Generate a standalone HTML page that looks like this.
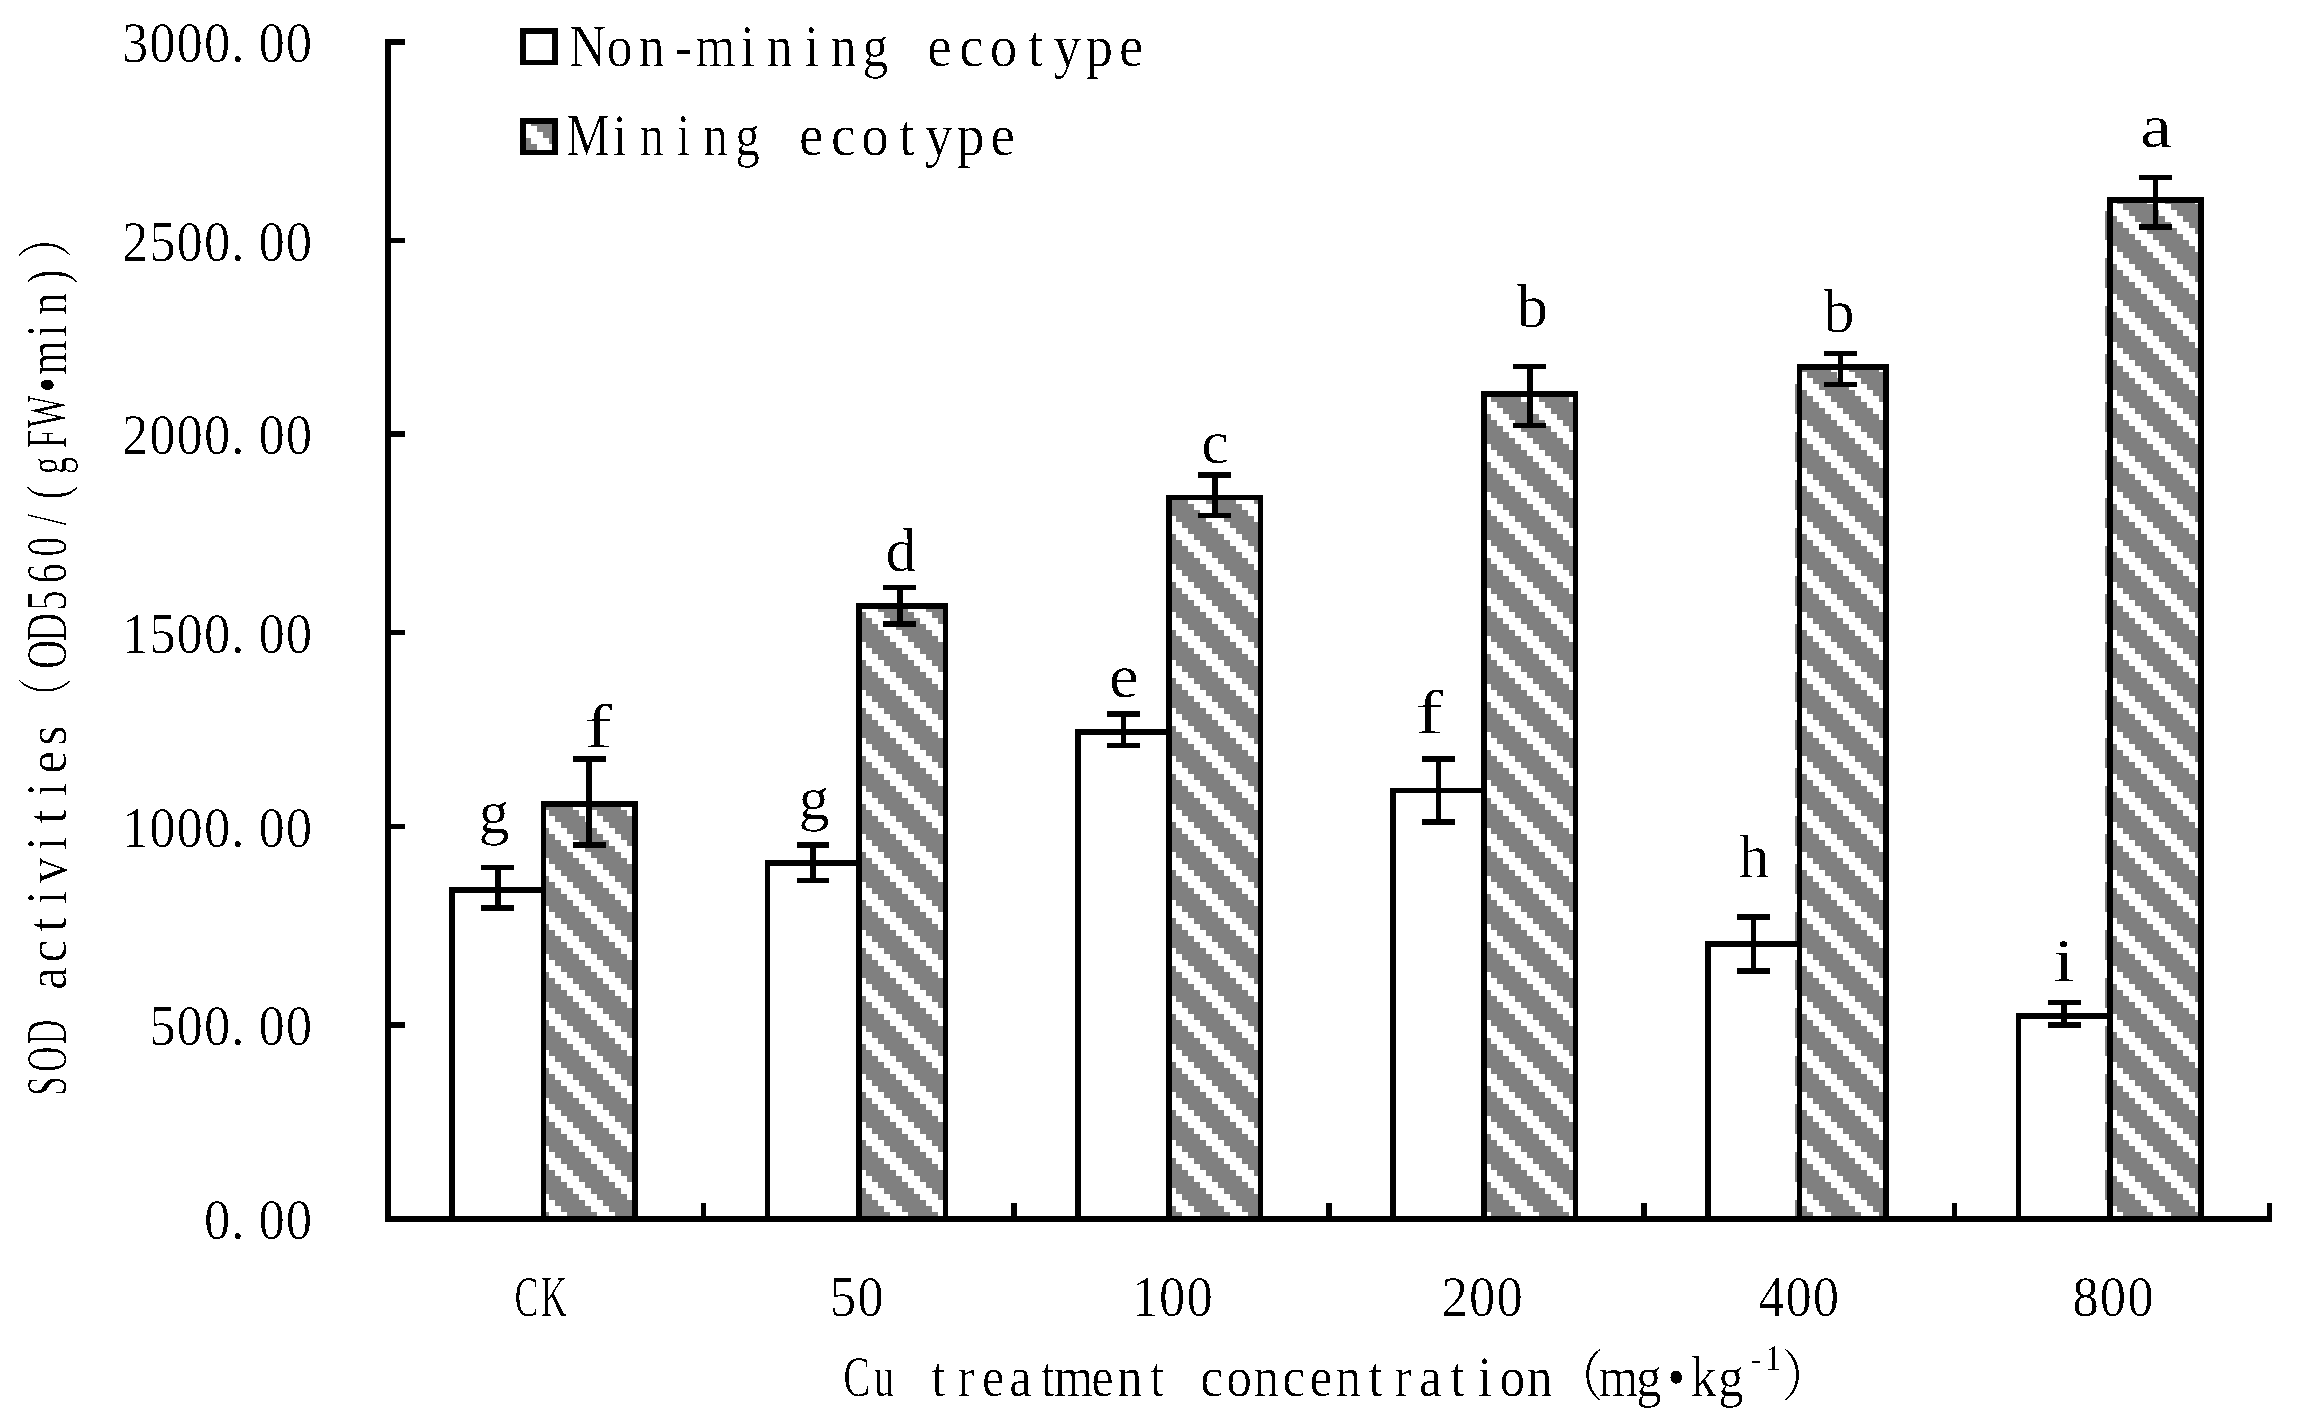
<!DOCTYPE html>
<html lang="en"><head><meta charset="utf-8"><title>SOD activities</title>
<style>html,body{margin:0;padding:0;background:#fff}svg{display:block}text{font-family:"Liberation Serif", "Noto Serif CJK SC", serif;fill:#000}</style></head><body>
<svg width="2317" height="1425" viewBox="0 0 2317 1425">
<rect width="2317" height="1425" fill="#fff"/>
<defs>
<pattern id="h0" patternUnits="userSpaceOnUse" x="531" y="810" width="48" height="48">
<rect width="48" height="48" fill="#808080"/>
<rect x="0" y="0" width="18" height="6" fill="#fff"/>
<rect x="6" y="6" width="18" height="6" fill="#fff"/>
<rect x="12" y="12" width="18" height="6" fill="#fff"/>
<rect x="18" y="18" width="18" height="6" fill="#fff"/>
<rect x="24" y="24" width="18" height="6" fill="#fff"/>
<rect x="30" y="30" width="18" height="6" fill="#fff"/>
<rect x="36" y="36" width="12" height="6" fill="#fff"/>
<rect x="0" y="36" width="6" height="6" fill="#fff"/>
<rect x="42" y="42" width="6" height="6" fill="#fff"/>
<rect x="0" y="42" width="12" height="6" fill="#fff"/>
</pattern>
<pattern id="h1" patternUnits="userSpaceOnUse" x="848" y="1170" width="48" height="48">
<rect width="48" height="48" fill="#808080"/>
<rect x="0" y="0" width="18" height="6" fill="#fff"/>
<rect x="6" y="6" width="18" height="6" fill="#fff"/>
<rect x="12" y="12" width="18" height="6" fill="#fff"/>
<rect x="18" y="18" width="18" height="6" fill="#fff"/>
<rect x="24" y="24" width="18" height="6" fill="#fff"/>
<rect x="30" y="30" width="18" height="6" fill="#fff"/>
<rect x="36" y="36" width="12" height="6" fill="#fff"/>
<rect x="0" y="36" width="6" height="6" fill="#fff"/>
<rect x="42" y="42" width="6" height="6" fill="#fff"/>
<rect x="0" y="42" width="12" height="6" fill="#fff"/>
</pattern>
<pattern id="h2" patternUnits="userSpaceOnUse" x="1158" y="1140" width="48" height="48">
<rect width="48" height="48" fill="#808080"/>
<rect x="0" y="0" width="18" height="6" fill="#fff"/>
<rect x="6" y="6" width="18" height="6" fill="#fff"/>
<rect x="12" y="12" width="18" height="6" fill="#fff"/>
<rect x="18" y="18" width="18" height="6" fill="#fff"/>
<rect x="24" y="24" width="18" height="6" fill="#fff"/>
<rect x="30" y="30" width="18" height="6" fill="#fff"/>
<rect x="36" y="36" width="12" height="6" fill="#fff"/>
<rect x="0" y="36" width="6" height="6" fill="#fff"/>
<rect x="42" y="42" width="6" height="6" fill="#fff"/>
<rect x="0" y="42" width="12" height="6" fill="#fff"/>
</pattern>
<pattern id="h3" patternUnits="userSpaceOnUse" x="1473" y="1164" width="48" height="48">
<rect width="48" height="48" fill="#808080"/>
<rect x="0" y="0" width="18" height="6" fill="#fff"/>
<rect x="6" y="6" width="18" height="6" fill="#fff"/>
<rect x="12" y="12" width="18" height="6" fill="#fff"/>
<rect x="18" y="18" width="18" height="6" fill="#fff"/>
<rect x="24" y="24" width="18" height="6" fill="#fff"/>
<rect x="30" y="30" width="18" height="6" fill="#fff"/>
<rect x="36" y="36" width="12" height="6" fill="#fff"/>
<rect x="0" y="36" width="6" height="6" fill="#fff"/>
<rect x="42" y="42" width="6" height="6" fill="#fff"/>
<rect x="0" y="42" width="12" height="6" fill="#fff"/>
</pattern>
<pattern id="h4" patternUnits="userSpaceOnUse" x="1789" y="1188" width="48" height="48">
<rect width="48" height="48" fill="#808080"/>
<rect x="0" y="0" width="18" height="6" fill="#fff"/>
<rect x="6" y="6" width="18" height="6" fill="#fff"/>
<rect x="12" y="12" width="18" height="6" fill="#fff"/>
<rect x="18" y="18" width="18" height="6" fill="#fff"/>
<rect x="24" y="24" width="18" height="6" fill="#fff"/>
<rect x="30" y="30" width="18" height="6" fill="#fff"/>
<rect x="36" y="36" width="12" height="6" fill="#fff"/>
<rect x="0" y="36" width="6" height="6" fill="#fff"/>
<rect x="42" y="42" width="6" height="6" fill="#fff"/>
<rect x="0" y="42" width="12" height="6" fill="#fff"/>
</pattern>
<pattern id="h5" patternUnits="userSpaceOnUse" x="2099" y="246" width="48" height="48">
<rect width="48" height="48" fill="#808080"/>
<rect x="0" y="0" width="18" height="6" fill="#fff"/>
<rect x="6" y="6" width="18" height="6" fill="#fff"/>
<rect x="12" y="12" width="18" height="6" fill="#fff"/>
<rect x="18" y="18" width="18" height="6" fill="#fff"/>
<rect x="24" y="24" width="18" height="6" fill="#fff"/>
<rect x="30" y="30" width="18" height="6" fill="#fff"/>
<rect x="36" y="36" width="12" height="6" fill="#fff"/>
<rect x="0" y="36" width="6" height="6" fill="#fff"/>
<rect x="42" y="42" width="6" height="6" fill="#fff"/>
<rect x="0" y="42" width="12" height="6" fill="#fff"/>
</pattern>
<pattern id="hl" patternUnits="userSpaceOnUse" x="531" y="138" width="48" height="48">
<rect width="48" height="48" fill="#808080"/>
<rect x="0" y="0" width="18" height="6" fill="#fff"/>
<rect x="6" y="6" width="18" height="6" fill="#fff"/>
<rect x="12" y="12" width="18" height="6" fill="#fff"/>
<rect x="18" y="18" width="18" height="6" fill="#fff"/>
<rect x="24" y="24" width="18" height="6" fill="#fff"/>
<rect x="30" y="30" width="18" height="6" fill="#fff"/>
<rect x="36" y="36" width="12" height="6" fill="#fff"/>
<rect x="0" y="36" width="6" height="6" fill="#fff"/>
<rect x="42" y="42" width="6" height="6" fill="#fff"/>
<rect x="0" y="42" width="12" height="6" fill="#fff"/>
</pattern>
<filter id="bw" filterUnits="userSpaceOnUse" x="0" y="0" width="2317" height="1425" color-interpolation-filters="sRGB"><feComponentTransfer><feFuncA type="discrete" tableValues="0 0 0 1"/></feComponentTransfer></filter>
</defs>
<g shape-rendering="crispEdges">
<rect x="546" y="807" width="86" height="409" fill="url(#h0)"/>
<rect x="541" y="801" width="5" height="415" fill="#000"/>
<rect x="632" y="801" width="6" height="415" fill="#000"/>
<rect x="541" y="801" width="97" height="6" fill="#000"/>
<rect x="449" y="887" width="6" height="329" fill="#000"/>
<rect x="449" y="887" width="92" height="6" fill="#000"/>
<rect x="862" y="609" width="81" height="607" fill="url(#h1)"/>
<rect x="856" y="603" width="6" height="613" fill="#000"/>
<rect x="943" y="603" width="5" height="613" fill="#000"/>
<rect x="856" y="603" width="92" height="6" fill="#000"/>
<rect x="765" y="860" width="5" height="356" fill="#000"/>
<rect x="765" y="860" width="91" height="6" fill="#000"/>
<rect x="1172" y="500" width="86" height="716" fill="url(#h2)"/>
<rect x="1166" y="495" width="6" height="721" fill="#000"/>
<rect x="1258" y="495" width="5" height="721" fill="#000"/>
<rect x="1166" y="495" width="97" height="5" fill="#000"/>
<rect x="1075" y="729" width="6" height="487" fill="#000"/>
<rect x="1075" y="729" width="91" height="6" fill="#000"/>
<rect x="1487" y="397" width="86" height="819" fill="url(#h3)"/>
<rect x="1481" y="391" width="6" height="825" fill="#000"/>
<rect x="1573" y="391" width="5" height="825" fill="#000"/>
<rect x="1481" y="391" width="97" height="6" fill="#000"/>
<rect x="1390" y="788" width="6" height="428" fill="#000"/>
<rect x="1390" y="788" width="91" height="5" fill="#000"/>
<rect x="1795" y="378" width="88" height="838" fill="url(#h4)"/>
<rect x="1802" y="370" width="81" height="8" fill="url(#h4)"/>
<rect x="1797" y="364" width="5" height="852" fill="#000"/>
<rect x="1883" y="364" width="6" height="852" fill="#000"/>
<rect x="1797" y="364" width="92" height="6" fill="#000"/>
<rect x="1705" y="941" width="6" height="275" fill="#000"/>
<rect x="1705" y="941" width="92" height="6" fill="#000"/>
<rect x="2105" y="211" width="93" height="1005" fill="url(#h5)"/>
<rect x="2113" y="203" width="85" height="8" fill="url(#h5)"/>
<rect x="2107" y="197" width="6" height="1019" fill="#000"/>
<rect x="2198" y="197" width="6" height="1019" fill="#000"/>
<rect x="2107" y="197" width="97" height="6" fill="#000"/>
<rect x="2016" y="1013" width="5" height="203" fill="#000"/>
<rect x="2016" y="1013" width="91" height="6" fill="#000"/>
<rect x="385" y="39" width="6" height="1183" fill="#000"/>
<rect x="385" y="1216" width="1887" height="6" fill="#000"/>
<rect x="391" y="39" width="14" height="6" fill="#000"/>
<rect x="391" y="238" width="14" height="5" fill="#000"/>
<rect x="391" y="431" width="14" height="6" fill="#000"/>
<rect x="391" y="630" width="14" height="5" fill="#000"/>
<rect x="391" y="824" width="14" height="5" fill="#000"/>
<rect x="391" y="1022" width="14" height="6" fill="#000"/>
<rect x="701" y="1203" width="5" height="13" fill="#000"/>
<rect x="1011" y="1203" width="6" height="13" fill="#000"/>
<rect x="1326" y="1203" width="6" height="13" fill="#000"/>
<rect x="1641" y="1203" width="6" height="13" fill="#000"/>
<rect x="1952" y="1203" width="5" height="13" fill="#000"/>
<rect x="2267" y="1203" width="5" height="13" fill="#000"/>
<rect x="481" y="865" width="33" height="5" fill="#000"/>
<rect x="481" y="905" width="33" height="6" fill="#000"/>
<rect x="495" y="865" width="6" height="46" fill="#000"/>
<rect x="573" y="756" width="33" height="6" fill="#000"/>
<rect x="573" y="842" width="33" height="6" fill="#000"/>
<rect x="586" y="756" width="6" height="92" fill="#000"/>
<rect x="797" y="842" width="32" height="6" fill="#000"/>
<rect x="797" y="878" width="32" height="5" fill="#000"/>
<rect x="810" y="842" width="6" height="41" fill="#000"/>
<rect x="883" y="585" width="33" height="5" fill="#000"/>
<rect x="883" y="621" width="33" height="6" fill="#000"/>
<rect x="897" y="585" width="6" height="42" fill="#000"/>
<rect x="1107" y="711" width="33" height="6" fill="#000"/>
<rect x="1107" y="743" width="33" height="5" fill="#000"/>
<rect x="1121" y="711" width="5" height="37" fill="#000"/>
<rect x="1198" y="472" width="33" height="6" fill="#000"/>
<rect x="1198" y="513" width="33" height="5" fill="#000"/>
<rect x="1212" y="472" width="6" height="46" fill="#000"/>
<rect x="1422" y="756" width="33" height="6" fill="#000"/>
<rect x="1422" y="819" width="33" height="6" fill="#000"/>
<rect x="1436" y="756" width="5" height="69" fill="#000"/>
<rect x="1513" y="364" width="33" height="5" fill="#000"/>
<rect x="1513" y="423" width="33" height="5" fill="#000"/>
<rect x="1527" y="364" width="6" height="64" fill="#000"/>
<rect x="1737" y="914" width="33" height="6" fill="#000"/>
<rect x="1737" y="968" width="33" height="6" fill="#000"/>
<rect x="1751" y="914" width="5" height="60" fill="#000"/>
<rect x="1824" y="351" width="33" height="5" fill="#000"/>
<rect x="1824" y="382" width="33" height="5" fill="#000"/>
<rect x="1838" y="351" width="5" height="36" fill="#000"/>
<rect x="2048" y="1000" width="33" height="5" fill="#000"/>
<rect x="2048" y="1022" width="33" height="6" fill="#000"/>
<rect x="2061" y="1000" width="6" height="28" fill="#000"/>
<rect x="2139" y="175" width="33" height="5" fill="#000"/>
<rect x="2139" y="224" width="33" height="6" fill="#000"/>
<rect x="2153" y="175" width="5" height="55" fill="#000"/>
<rect x="520" y="28" width="38" height="37" fill="#000"/>
<rect x="526" y="34" width="26" height="26" fill="#fff"/>
<rect x="520" y="118" width="38" height="37" fill="#000"/>
<rect x="526" y="124" width="26" height="26" fill="url(#hl)"/>
</g>
<g filter="url(#bw)">
<text text-anchor="middle" font-size="56" x="143.8 172.9 201.9 231.0 253.1 289.0 318.1" y="62.2" transform="scale(0.94,1)">3000.00</text>
<text text-anchor="middle" font-size="56" x="143.8 172.9 201.9 231.0 253.1 289.0 318.1" y="260.7" transform="scale(0.94,1)">2500.00</text>
<text text-anchor="middle" font-size="56" x="143.8 172.9 201.9 231.0 253.1 289.0 318.1" y="454.5" transform="scale(0.94,1)">2000.00</text>
<text text-anchor="middle" font-size="56" x="143.8 172.9 201.9 231.0 253.1 289.0 318.1" y="652.9" transform="scale(0.94,1)">1500.00</text>
<text text-anchor="middle" font-size="56" x="143.8 172.9 201.9 231.0 253.1 289.0 318.1" y="846.7" transform="scale(0.94,1)">1000.00</text>
<text text-anchor="middle" font-size="56" x="172.9 201.9 231.0 253.1 289.0 318.1" y="1044.9" transform="scale(0.94,1)">500.00</text>
<text text-anchor="middle" font-size="56" x="231.0 253.1 289.0 318.1" y="1239.2" transform="scale(0.94,1)">0.00</text>
<text text-anchor="middle" font-size="56" x="810.3 852.3" y="1316" transform="scale(0.65,1)">CK</text>
<text text-anchor="middle" font-size="56" x="896.9 926.0" y="1316" transform="scale(0.94,1)">50</text>
<text text-anchor="middle" font-size="56" x="1218.1 1247.1 1276.2" y="1316" transform="scale(0.94,1)">100</text>
<text text-anchor="middle" font-size="56" x="1547.9 1576.9 1606.0" y="1316" transform="scale(0.94,1)">200</text>
<text text-anchor="middle" font-size="56" x="1884.4 1913.4 1942.4" y="1316" transform="scale(0.94,1)">400</text>
<text text-anchor="middle" font-size="56" x="2218.8 2247.9 2276.9" y="1316" transform="scale(0.94,1)">800</text>
<text text-anchor="middle" font-size="62" x="494.0" y="833">g</text>
<text text-anchor="middle" font-size="62" x="443.3" y="747" transform="scale(1.35,1)">f</text>
<text text-anchor="middle" font-size="62" x="814.0" y="819">g</text>
<text text-anchor="middle" font-size="62" x="901.0" y="571">d</text>
<text text-anchor="middle" font-size="62" x="1040.7" y="697" transform="scale(1.08,1)">e</text>
<text text-anchor="middle" font-size="62" x="1215.0" y="463">c</text>
<text text-anchor="middle" font-size="62" x="1058.9" y="733" transform="scale(1.35,1)">f</text>
<text text-anchor="middle" font-size="62" x="1532.5" y="327">b</text>
<text text-anchor="middle" font-size="62" x="1754.0" y="877">h</text>
<text text-anchor="middle" font-size="62" x="1839.0" y="332">b</text>
<text text-anchor="middle" font-size="62" x="1651.2" y="981" transform="scale(1.25,1)">i</text>
<text text-anchor="middle" font-size="62" x="1874.8" y="147" transform="scale(1.15,1)">a</text>
<text text-anchor="middle" font-size="60" transform="scale(0.86,1)" x="683.4 720.6 757.7 794.9 832.1 869.3 906.5 943.7 980.9 1018.0" y="66">Non-mining</text>
<text text-anchor="middle" font-size="60" transform="scale(0.92,1)" x="1021.2 1055.9 1090.7 1125.5 1160.2 1195.0 1229.7" y="66">ecotype</text>
<text text-anchor="middle" font-size="60" transform="scale(0.82,1)" x="717.1 756.0 794.9 833.8 872.7 911.6" y="155.5">Mining</text>
<text text-anchor="middle" font-size="60" transform="scale(0.92,1)" x="881.8 916.5 951.2 985.9 1020.5 1055.2 1089.9" y="155.5">ecotype</text>
<text text-anchor="middle" font-size="56" transform="scale(0.72,1)" x="1189.7 1227.7" y="1396.3">Cu</text>
<text text-anchor="middle" font-size="56" transform="scale(0.9,1)" x="1042.8 1073.2 1103.6 1133.9 1164.3 1193.0 1225.0 1255.3 1285.7" y="1396.3">treatment</text>
<text text-anchor="middle" font-size="56" transform="scale(0.92,1)" x="1317.1 1346.8 1376.5 1406.2 1435.9 1465.6 1495.3 1525.0 1554.7 1584.4 1614.1 1643.8 1673.5 1715.5 1759.3 1792.3 1822.0 1851.7 1881.3" y="1396.3">concentration（mg•kg<tspan font-size="36" x="1908.7 1927.2" y="1370">-1</tspan><tspan x="1964.1" y="1396.3">）</tspan></text>
<text text-anchor="middle" font-size="56" transform="rotate(-90) scale(0.62,1)" x="-1751.9 -1708.4 -1664.9" y="65.7">SOD</text>
<text text-anchor="middle" font-size="56" transform="rotate(-90) scale(0.92,1)" x="-1063.3 -1034.0 -1004.7 -975.4 -946.0 -916.7 -887.4 -858.1 -828.7 -799.4" y="65.7">activities</text><text text-anchor="middle" font-size="56" transform="rotate(-90) scale(0.72,1)" x="-968.8 -909.1 -871.6 -834.1 -796.6 -759.2 -721.7 -684.2" y="65.7">（OD560/(</text><text text-anchor="middle" font-size="56" transform="rotate(-90) scale(0.62,1)" x="-751.1 -707.5 -664.0" y="65.7">gFW</text><text text-anchor="middle" font-size="56" transform="rotate(-90) scale(0.8,1)" x="-480.9 -447.2 -413.4 -379.7 -346.0 -295.4" y="65.7">•min)）</text>
</g>
</svg></body></html>
